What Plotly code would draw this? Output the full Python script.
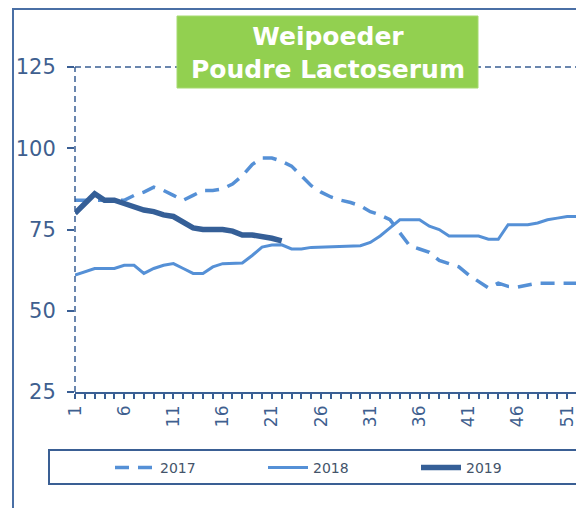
import plotly.graph_objects as go

weeks = list(range(1, 53))
weeks_2019 = list(range(1, 23))

values_2017 = [84, 84, 84, 84, 84, 84, 85.5, 86.5, 88, 87, 85.5, 84, 85.5, 87, 87, 87.5,
               89, 91.5, 95, 97, 97, 96, 94.5, 91.5, 88.5, 86.5, 85, 84, 83.3, 82.3, 80.5,
               79.5, 78, 74, 70, 69, 68, 65.5, 64.5, 63.5, 61, 59, 57, 58.5, 57.5, 57.3,
               58, 58.5, 58.5, 58.5, 58.5, 58.5]
values_2018 = [61, 62, 63, 63, 63, 64, 64, 61.5, 63, 64, 64.5, 63, 61.5, 61.5, 63.5, 64.5,
               64.5, 64.7, 67, 69.6, 70.2, 70.3, 69, 69, 69.5, 69.6, 69.8, 70, 70, 70, 71,
               73, 75.5, 78, 78, 78, 76, 75, 73, 73, 73, 73, 72, 72, 76.5, 76.5, 76.5, 77,
               78, 78.5, 79, 79]
values_2019 = [80, 83, 86, 84, 84, 83, 82, 81, 80.5, 79.5, 79, 77, 75.5, 75, 75, 75, 74.5,
               73.3, 73.3, 73, 72.3, 71.5]

x_tick_labels = [1, 6, 11, 16, 21, 26, 31, 36, 41, 46, 51]
y_tick_labels = [25, 50, 75, 100, 125]

title_lines = ["Weipoeder", "Poudre Lactoserum"]

LIGHT = "#5590D6"
DARK = "#355F97"
AXIS = "#3A5F94"
TXT = "#3F5F8F"

OFF = 8  # page body margin offset
W, H = 584, 508
# desired on-screen plot area: x 75..577, y 67..392
L = 75 - OFF
T = 67 - OFF
R = W - (577 - OFF)
B = H - (392 - OFF)
pw = W - L - R
ph = H - T - B


def px_x(p):
    return (p - OFF - L) / pw


def px_y(p):
    return (H - B - (p - OFF)) / ph


fig = go.Figure()
fig.add_trace(go.Scatter(x=weeks, y=values_2017, name="2017", mode="lines",
                         line=dict(color=LIGHT, width=3.5, dash="14px,9px")))
fig.add_trace(go.Scatter(x=weeks, y=values_2018, name="2018", mode="lines",
                         line=dict(color=LIGHT, width=3)))
fig.add_trace(go.Scatter(x=weeks_2019, y=values_2019, name="2019", mode="lines",
                         line=dict(color=DARK, width=5.5)))

shapes = []
# outer frame
shapes.append(dict(type="rect", xref="paper", yref="paper",
                   x0=px_x(13), x1=px_x(610), y0=px_y(540), y1=px_y(9),
                   line=dict(color="#4A6FA5", width=2), layer="below"))
# dashed plot border: left, top, right
for (x0, y0, x1, y1) in [(0, 0, 0, 1), (0, 1, 1, 1), (1, 0, 1, 1)]:
    shapes.append(dict(type="line", xref="paper", yref="paper", x0=x0, y0=y0, x1=x1, y1=y1,
                       line=dict(color=AXIS, width=1.5, dash="6px,4px"), layer="above"))
# title box
shapes.append(dict(type="rect", xref="paper", yref="paper",
                   x0=px_x(177), x1=px_x(478), y0=px_y(88), y1=px_y(16),
                   fillcolor="#92D050", line=dict(color="#A6DA70", width=1), layer="above"))
# legend box
shapes.append(dict(type="rect", xref="paper", yref="paper",
                   x0=px_x(49), x1=px_x(582), y0=px_y(484), y1=px_y(450),
                   line=dict(color="#3A5F94", width=2), layer="above"))

fig.update_layout(
    width=W, height=H, autosize=False,
    margin=dict(l=L, r=R, t=T, b=B, pad=0),
    paper_bgcolor="white", plot_bgcolor="white",
    shapes=shapes,
    annotations=[dict(xref="paper", yref="paper", x=px_x(328), y=px_y(53),
                      text="<b>" + title_lines[0] + "</b><br><b>" + title_lines[1] + "</b>",
                      showarrow=False, xanchor="center", yanchor="middle",
                      font=dict(family="DejaVu Sans", size=25, color="white"))],
    showlegend=True,
    legend=dict(orientation="h", x=px_x(110), xanchor="left", y=px_y(452), yanchor="top",
                font=dict(family="DejaVu Sans", size=14, color="#44546A"),
                bgcolor="rgba(0,0,0,0)", borderwidth=0, entrywidth=98, itemwidth=40,
                traceorder="normal"),
    xaxis=dict(range=[1, 52], tickmode="array", tickvals=x_tick_labels,
               ticktext=[str(v) for v in x_tick_labels], tickangle=-90,
               ticks="outside", ticklen=5, tickcolor=AXIS, tickwidth=1.5,
               minor=dict(ticks="outside", dtick=1, tick0=1, ticklen=5, tickcolor=AXIS, tickwidth=1.5),
               showline=True, linecolor=AXIS, linewidth=1.5, showgrid=False, zeroline=False,
               automargin=False,
               tickfont=dict(family="DejaVu Sans", size=17, color=TXT)),
    yaxis=dict(range=[25, 125], tickmode="array", tickvals=y_tick_labels,
               ticks="outside", ticklen=7, tickcolor=AXIS, tickwidth=1.5,
               showline=False, showgrid=False, zeroline=False, ticklabelstandoff=7,
               automargin=False,
               tickfont=dict(family="DejaVu Sans", size=21, color=TXT)),
)

fig.write_html("out.html")
